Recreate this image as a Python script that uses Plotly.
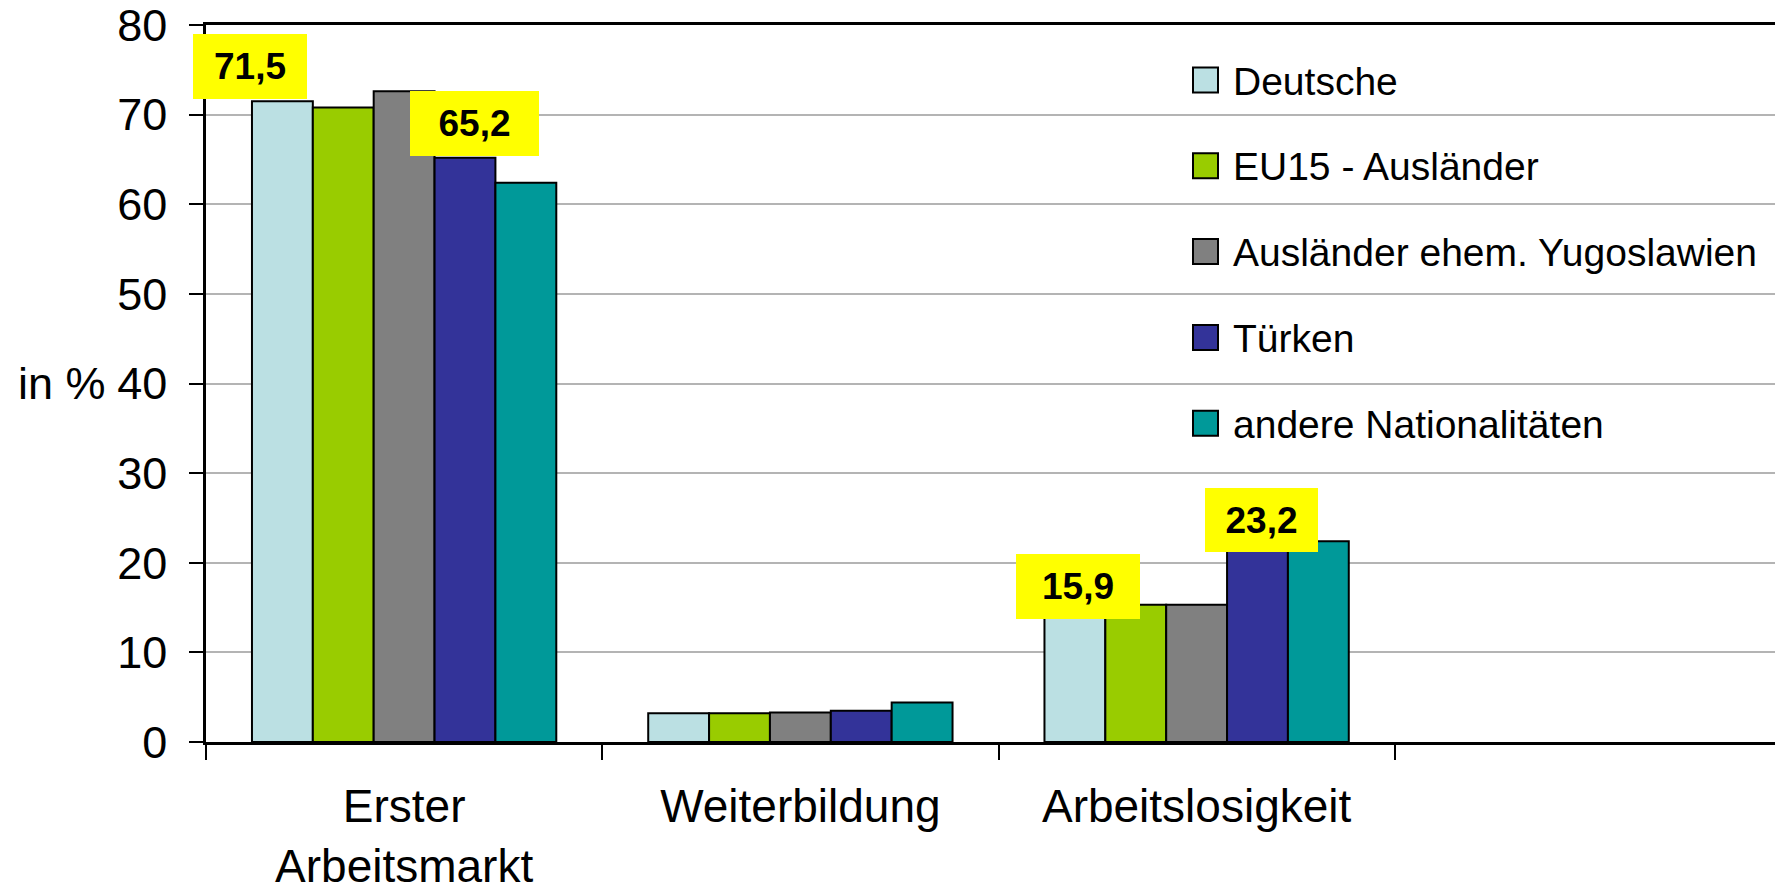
import plotly.graph_objects as go

# -----------------------------
# DATA
# -----------------------------
categories = ["Erster<br>Arbeitsmarkt", "Weiterbildung", "Arbeitslosigkeit"]
series_names = ["Deutsche", "EU15 - Ausländer", "Ausländer ehem. Yugoslawien",
                "Türken", "andere Nationalitäten"]
deutsche = [71.5, 3.2, 15.9]
eu15 = [70.8, 3.2, 15.3]
yugoslawien = [72.6, 3.3, 15.3]
tuerken = [65.2, 3.5, 23.2]
andere = [62.4, 4.4, 22.4]
series_values = [deutsche, eu15, yugoslawien, tuerken, andere]

# highlighted values: (category index, series index)
highlights = [(0, 0), (0, 3), (2, 0), (2, 3)]

y_ticks = list(range(0, 81, 10))

# -----------------------------
# STYLE
# -----------------------------
COLORS = ["#BBE0E3", "#99CC00", "#808080", "#333399", "#009999"]
FONT = "Liberation Sans, Arial, sans-serif"
W, H = 1783, 887
L, R, T, B = 198, 0, 17, 153
PAGE_OFF = 8          # body margin of the html page
BARGAP = 0.232
PLOT_W = W - L - R
PLOT_H = H - T - B

# label box look: (xshift, yshift, box width, box height)
label_style = [(-32, 35, 114, 65), (10, 34, 129, 65), (3, 13, 124, 65), (4, 14, 113, 64)]


# page pixel -> paper coords
def px(x):
    return (x - PAGE_OFF - L) / PLOT_W


def py(y):
    return (H - B + PAGE_OFF - y) / PLOT_H


fig = go.Figure()
for name, vals, col in zip(series_names, series_values, COLORS):
    fig.add_trace(go.Bar(
        x=categories, y=vals, name=name,
        marker=dict(color=col, line=dict(color="black", width=2)),
        showlegend=False,
    ))

# -----------------------------
# VALUE LABELS (yellow boxes)
# -----------------------------
n = len(series_names)
annotations = []
for (ci, si), (dx, dy, bw, bh) in zip(highlights, label_style):
    v = series_values[si][ci]
    xpos = ci + (si - (n - 1) / 2) * (1 - BARGAP) / n
    annotations.append(dict(
        x=xpos, y=v, xref="x", yref="y",
        text=f"<b>{v:.1f}</b>".replace(".", ","),
        showarrow=False, xanchor="center", yanchor="middle",
        xshift=dx, yshift=dy, width=bw, height=bh,
        bgcolor="#FFFF00", borderpad=0, borderwidth=0,
        align="center", valign="middle",
        font=dict(family=FONT, size=37, color="black"),
    ))

# y axis caption
annotations.append(dict(
    x=px(16), y=40, xref="paper", yref="y", text="in %",
    showarrow=False, xanchor="left", yanchor="middle",
    font=dict(family=FONT, size=45, color="black"),
))

# -----------------------------
# LEGEND (drawn by hand for large swatches)
# -----------------------------
shapes = [dict(type="rect", xref="paper", yref="paper", layer="between",
               x0=px(1159), x1=1.01, y0=py(452), y1=py(27),
               fillcolor="white", line=dict(width=0))]
for i, (name, col) in enumerate(zip(series_names, COLORS)):
    cy = 80 + i * 85.8
    shapes.append(dict(type="rect", xref="paper", yref="paper", layer="above",
                       x0=px(1193), x1=px(1218), y0=py(cy + 12.5), y1=py(cy - 12.5),
                       fillcolor=col, line=dict(color="black", width=2)))
    annotations.append(dict(
        x=px(1231), y=py(cy), xref="paper", yref="paper", text=name,
        showarrow=False, xanchor="left", yanchor="middle", yshift=-1,
        font=dict(family=FONT, size=39, color="black"),
    ))

fig.update_layout(
    width=W, height=H,
    margin=dict(l=L, r=R, t=T, b=B, pad=0),
    paper_bgcolor="white", plot_bgcolor="white",
    barmode="group", bargap=BARGAP, bargroupgap=0,
    showlegend=False,
    font=dict(family=FONT, color="black"),
    annotations=annotations, shapes=shapes,
    xaxis=dict(
        range=[-0.5, 3.5], showline=True, linecolor="black", linewidth=2.5,
        mirror=True, ticks="outside", ticklen=15, tickwidth=2, tickcolor="black",
        tickson="boundaries", showgrid=False, ticklabelstandoff=22,
        ticklabeloverflow="allow", automargin=False,
        tickfont=dict(family=FONT, size=46, color="black"),
    ),
    yaxis=dict(
        range=[0, 80], tickvals=y_ticks, showline=True, linecolor="black",
        linewidth=2.5, ticks="outside", ticklen=14, tickwidth=2, tickcolor="black",
        showgrid=True, gridcolor="#B4B4B4", gridwidth=1.5, zeroline=False,
        ticklabelstandoff=13, ticklabeloverflow="allow", automargin=False,
        tickfont=dict(family=FONT, size=45, color="black"),
    ),
)

fig.write_html("out.html")
